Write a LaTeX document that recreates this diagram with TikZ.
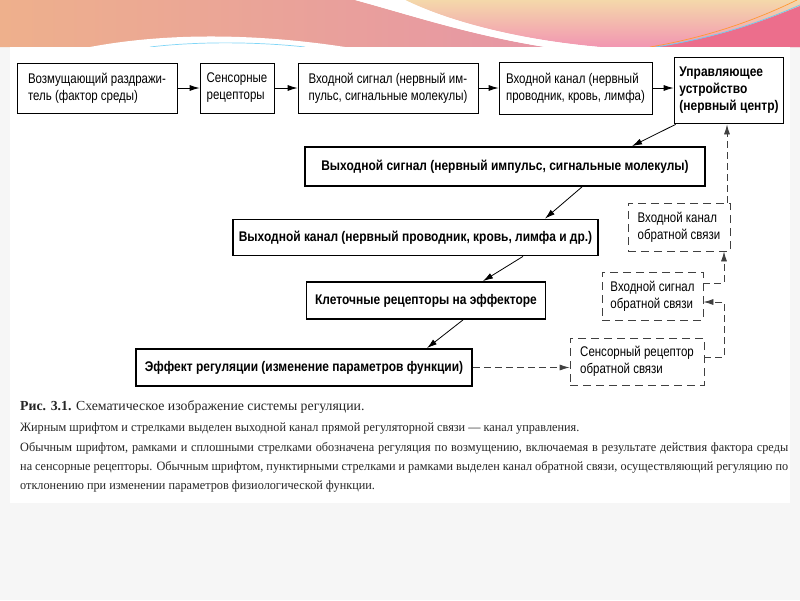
\documentclass[tikz,border=0pt]{standalone}
\usepackage{fontspec}
\setmainfont{Liberation Serif}
\newfontfamily\legendefont[FakeStretch=0.965]{Liberation Serif}
\newfontfamily\schemafont[FakeStretch=0.82,BoldFeatures={FakeStretch=0.855}]{Liberation Sans}
\usetikzlibrary{arrows.meta}
\definecolor{fondgris}{RGB}{246,246,246}
\definecolor{roseg}{RGB}{230,150,165}
\definecolor{orangeg}{RGB}{238,176,140}
\definecolor{rosed}{RGB}{242,150,178}
\definecolor{creme}{RGB}{244,216,170}
\definecolor{rosevif}{RGB}{236,110,140}

\begin{document}
\begin{tikzpicture}[x=1pt,y=-1pt,
    bloc/.style={draw,line width=0.8pt,align=left,inner sep=0pt,font=\schemafont\fontsize{14}{17}\selectfont},
    blocgras/.style={bloc,line width=1.8pt,font=\schemafont\bfseries\fontsize{14}{17}\selectfont},
    blocpointille/.style={bloc,draw=black!75,dash pattern=on 8pt off 5pt},
    fleche/.style={-{Latex[length=10pt,width=6pt]},line width=0.8pt},
    flechepointillee/.style={fleche,draw=black!75,dash pattern=on 7pt off 4pt},
    legende/.style={anchor=west,inner sep=0pt,text=black!85,font=\legendefont\fontsize{12.7}{15}\selectfont}]
    \useasboundingbox (0,0) rectangle (800,600);
    % fond de la diapositive
    \fill[fondgris] (0,0) rectangle (800,600);
    \shade[left color=orangeg,right color=roseg] (0,0) -- (355,0) .. controls (410,15) and (470,35) .. (545,47) -- (0,47) -- cycle;
    \shade[top color=creme,bottom color=rosed] (405,0) -- (800,0) -- (800,47) -- (600,47) .. controls (520,40) and (450,22) .. (405,0) -- cycle;
    \fill[rosevif] (655,47) .. controls (725,37) and (770,18) .. (800,6) -- (800,47) -- cycle;
    \draw[orange!80,line width=0.7pt] (650,47) .. controls (720,35) and (768,14) .. (797,0);
    \draw[cyan!60,line width=0.7pt] (656,47) .. controls (726,36) and (772,17) .. (800,5);
    \fill[white] (355,0) -- (405,0) .. controls (450,22) and (520,40) .. (600,47) -- (545,47) .. controls (470,35) and (410,15) .. cycle;
    \fill[white] (90,47) .. controls (170,32) and (260,34) .. (345,47) -- cycle;
    \draw[cyan!50,line width=0.7pt] (150,47) .. controls (200,41) and (260,42) .. (305,47);
    \fill[white] (10,47) rectangle (790,503);
    % chaine directe
    \node[bloc,minimum width=160pt,minimum height=50pt] (stimul) at (97,88) {Возмущающий раздражи-\\тель (фактор среды)};
    \node[bloc,minimum width=74pt,minimum height=50pt] (senso) at (237,88) {Сенсорные\\рецепторы};
    \node[bloc,minimum width=180pt,minimum height=50pt] (sigin) at (388,88) {Входной сигнал (нервный им-\\пульс, сигнальные молекулы)};
    \node[bloc,minimum width=153pt,minimum height=52pt] (canin) at (575.5,88) {Входной канал (нервный\\проводник, кровь, лимфа)};
    \node[blocgras,minimum width=109pt,minimum height=66pt] (centre) at (729,90.5) {Управляющее\\устройство\\(нервный центр)};
    \node[blocgras,minimum width=400pt,minimum height=39pt] (sigout) at (505,166.5) {Выходной сигнал (нервный импульс, сигнальные молекулы)};
    \node[blocgras,minimum width=365pt,minimum height=36pt] (canout) at (415.5,237.5) {Выходной канал (нервный проводник, кровь, лимфа и др.)};
    \node[blocgras,minimum width=239pt,minimum height=37pt] (recept) at (426,300.5) {Клеточные рецепторы на эффекторе};
    \node[blocgras,minimum width=336pt,minimum height=37pt] (effet) at (304,367.5) {Эффект регуляции (изменение параметров функции)};
    % boucle de retour
    \node[blocpointille,minimum width=102pt,minimum height=48pt] (canret) at (679,227) {Входной канал\\обратной связи};
    \node[blocpointille,minimum width=101pt,minimum height=48pt] (sigret) at (652.5,296) {Входной сигнал\\обратной связи};
    \node[blocpointille,minimum width=134pt,minimum height=47pt] (recret) at (637,361.5) {Сенсорный рецептор\\обратной связи};

    \draw[fleche] (stimul) -- (senso);
    \draw[fleche] (senso) -- (sigin);
    \draw[fleche] (sigin) -- (canin);
    \draw[fleche] (canin.east) -- (canin.east -| centre.west);
    \draw[fleche] ([xshift=2pt]centre.south west) -- ([xshift=127pt]sigout.north);
    \draw[fleche] ([xshift=77pt]sigout.south) -- ([xshift=129.5pt]canout.north);
    \draw[fleche] ([xshift=107.5pt]canout.south) -- ([xshift=57pt]recept.north);
    \draw[fleche] ([xshift=37pt]recept.south) -- ([xshift=123pt]effet.north);

    \draw[flechepointillee] (effet.east) -- (effet.east -| recret.west);
    \draw[flechepointillee] ([yshift=4.5pt]recret.east) -- ++(20,0) |- ([yshift=-6pt]sigret.east);
    \draw[flechepointillee] ([yshift=13pt]sigret.east) -| ([xshift=45pt]canret.south);
    \draw[flechepointillee] ([xshift=48pt]canret.north) -- ([xshift=48pt]canret.north |- centre.south);

    % legende
    \node[legende,font=\rmfamily\fontsize{13.8}{16}\selectfont] (titre) at (20,407) {\textbf{Рис. 3.1.} Схематическое изображение системы регуляции.};
    \node[legende] (ligne1) at (20,428) {Жирным шрифтом и стрелками выделен выходной канал прямой регуляторной связи — канал управления.};
    \node[legende] (ligne2) at (20,448) {\makebox[768pt][s]{Обычным шрифтом, рамками и сплошными стрелками обозначена регуляция по возмущению, включаемая в результате действия фактора среды}};
    \node[legende] (ligne3) at (20,467) {\makebox[768pt][s]{на сенсорные рецепторы. Обычным шрифтом, пунктирными стрелками и рамками выделен канал обратной связи, осуществляющий регуляцию по}};
    \node[legende] (ligne4) at (20,486) {отклонению при изменении параметров физиологической функции.};
\end{tikzpicture}
\end{document}
